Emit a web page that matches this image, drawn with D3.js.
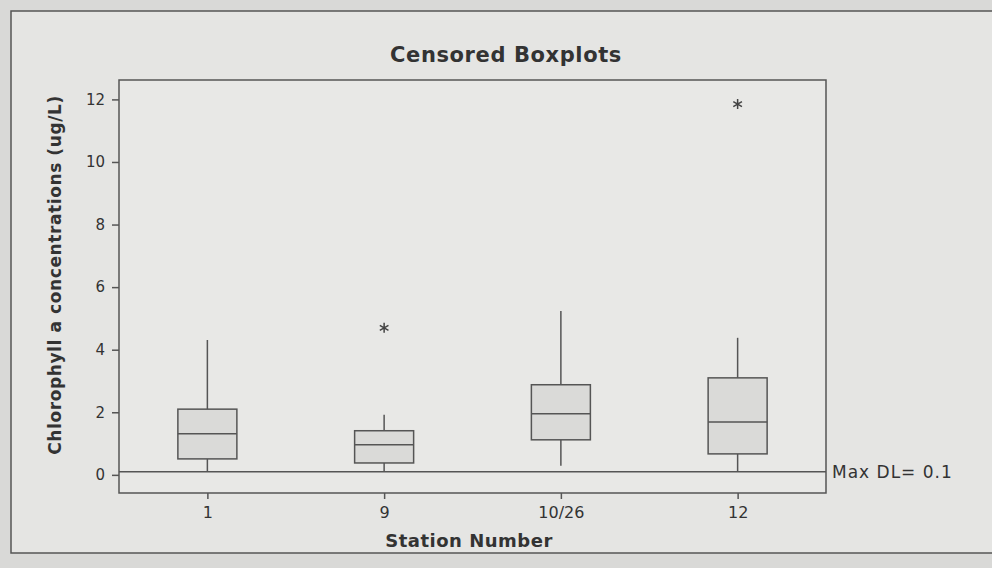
<!DOCTYPE html>
<html>
<head>
<meta charset="utf-8">
<script src="https://cdn.jsdelivr.net/npm/d3@7"></script>
<style>
  body { margin: 0; background: #dcdcda; }
  text { font-family: "DejaVu Sans", Verdana, sans-serif; fill: #333; }
</style>
</head>
<body>
<div class="canvas"></div>
<script>
// data
const stations = ['1', '9', '10/26', '12'];
const q1 = [0.51, 0.38, 1.12, 0.67];
const medians = [1.31, 0.96, 1.95, 1.69];
const q3 = [2.1, 1.41, 2.88, 3.1];
const whiskLow = [0.1, 0.12, 0.29, 0.12];
const whiskHigh = [4.31, 1.92, 5.24, 4.38];
const outliers = [[], [4.7], [], [11.85]];
const yTicks = [0, 2, 4, 6, 8, 10, 12];
const maxDL = 0.1;

const width = 992, height = 568;
const plot = {left: 119, right: 826, top: 80, bottom: 493};

const svg = d3.select('.canvas')
    .append('svg')
    .attr('width', width)
    .attr('height', height);

// page background and outer frame
svg.append('rect')
    .attr('width', width).attr('height', height)
    .attr('fill', '#d9d9d7');
svg.append('rect')
    .attr('x', 11).attr('y', 11)
    .attr('width', 1000).attr('height', 542)
    .attr('fill', '#e5e5e3')
    .attr('stroke', '#555').attr('stroke-width', 1.5);

const xScale = d3.scalePoint()
    .domain(stations)
    .range([plot.left, plot.right])
    .padding(0.5);
const yScale = d3.scaleLinear()
    .domain([-0.58, 12.62])
    .range([plot.bottom, plot.top]);

// plot area
svg.append('rect')
    .attr('x', plot.left).attr('y', plot.top)
    .attr('width', plot.right - plot.left)
    .attr('height', plot.bottom - plot.top)
    .attr('fill', '#e8e8e6')
    .attr('stroke', '#555').attr('stroke-width', 1.5);

// axes
const xAxis = d3.axisBottom(xScale).tickSize(6).tickPadding(8);
const yAxis = d3.axisLeft(yScale).tickValues(yTicks).tickSize(7).tickPadding(7);

const xAxisGroup = svg.append('g')
    .attr('transform', `translate(0, ${plot.bottom})`)
    .call(xAxis);
const yAxisGroup = svg.append('g')
    .attr('transform', `translate(${plot.left}, 0)`)
    .call(yAxis);

[xAxisGroup, yAxisGroup].forEach(g => {
    g.select('.domain').remove();
    g.selectAll('line').attr('stroke', '#555').attr('stroke-width', 1.5);
    g.selectAll('text')
        .attr('font-family', '"DejaVu Sans", Verdana, sans-serif')
        .attr('fill', '#444');
});
xAxisGroup.selectAll('text').attr('font-size', 16);
yAxisGroup.selectAll('text').attr('font-size', 15);

// detection limit line
svg.append('line')
    .attr('x1', plot.left).attr('x2', plot.right)
    .attr('y1', yScale(maxDL)).attr('y2', yScale(maxDL))
    .attr('stroke', '#555').attr('stroke-width', 1.5);
svg.append('text')
    .attr('x', plot.right + 6)
    .attr('y', yScale(maxDL) + 6)
    .attr('font-size', 17)
    .attr('letter-spacing', 1)
    .attr('fill', '#444')
    .text('Max DL= ' + maxDL);

// boxes
const boxW = 59;
const boxes = svg.selectAll('g.box')
    .data(stations)
    .enter()
    .append('g')
    .attr('class', 'box');

boxes.append('line')
    .attr('x1', d => xScale(d)).attr('x2', d => xScale(d))
    .attr('y1', (d, i) => yScale(q3[i])).attr('y2', (d, i) => yScale(whiskHigh[i]))
    .attr('stroke', '#555').attr('stroke-width', 1.5);
boxes.append('line')
    .attr('x1', d => xScale(d)).attr('x2', d => xScale(d))
    .attr('y1', (d, i) => yScale(q1[i])).attr('y2', (d, i) => yScale(whiskLow[i]))
    .attr('stroke', '#555').attr('stroke-width', 1.5);
boxes.append('rect')
    .attr('x', d => xScale(d) - boxW / 2)
    .attr('y', (d, i) => yScale(q3[i]))
    .attr('width', boxW)
    .attr('height', (d, i) => yScale(q1[i]) - yScale(q3[i]))
    .attr('fill', '#dadad8')
    .attr('stroke', '#555').attr('stroke-width', 1.5);
boxes.append('line')
    .attr('x1', d => xScale(d) - boxW / 2).attr('x2', d => xScale(d) + boxW / 2)
    .attr('y1', (d, i) => yScale(medians[i])).attr('y2', (d, i) => yScale(medians[i]))
    .attr('stroke', '#555').attr('stroke-width', 1.5);

// outliers
const outPts = [];
stations.forEach((s, i) => outliers[i].forEach(v => outPts.push({s, v})));
svg.selectAll('path.outlier')
    .data(outPts)
    .enter()
    .append('path')
    .attr('class', 'outlier')
    .attr('d', d3.symbol().type(d3.symbolAsterisk).size(70))
    .attr('transform', d => `translate(${xScale(d.s)}, ${yScale(d.v)})`)
    .attr('fill', 'none')
    .attr('stroke', '#444').attr('stroke-width', 1.5);

// titles
svg.append('text')
    .attr('x', 506).attr('y', 62)
    .attr('text-anchor', 'middle')
    .attr('font-size', 21).attr('font-weight', 'bold')
    .attr('letter-spacing', 0.6)
    .text('Censored Boxplots');
svg.append('text')
    .attr('x', 469).attr('y', 547)
    .attr('text-anchor', 'middle')
    .attr('font-size', 18).attr('font-weight', 'bold')
    .attr('letter-spacing', 0.5)
    .text('Station Number');
svg.append('text')
    .attr('transform', 'translate(61, 275) rotate(-90)')
    .attr('text-anchor', 'middle')
    .attr('font-size', 17).attr('font-weight', 'bold')
    .attr('letter-spacing', 0.6)
    .text('Chlorophyll a concentrations (ug/L)');
</script>
</body>
</html>
